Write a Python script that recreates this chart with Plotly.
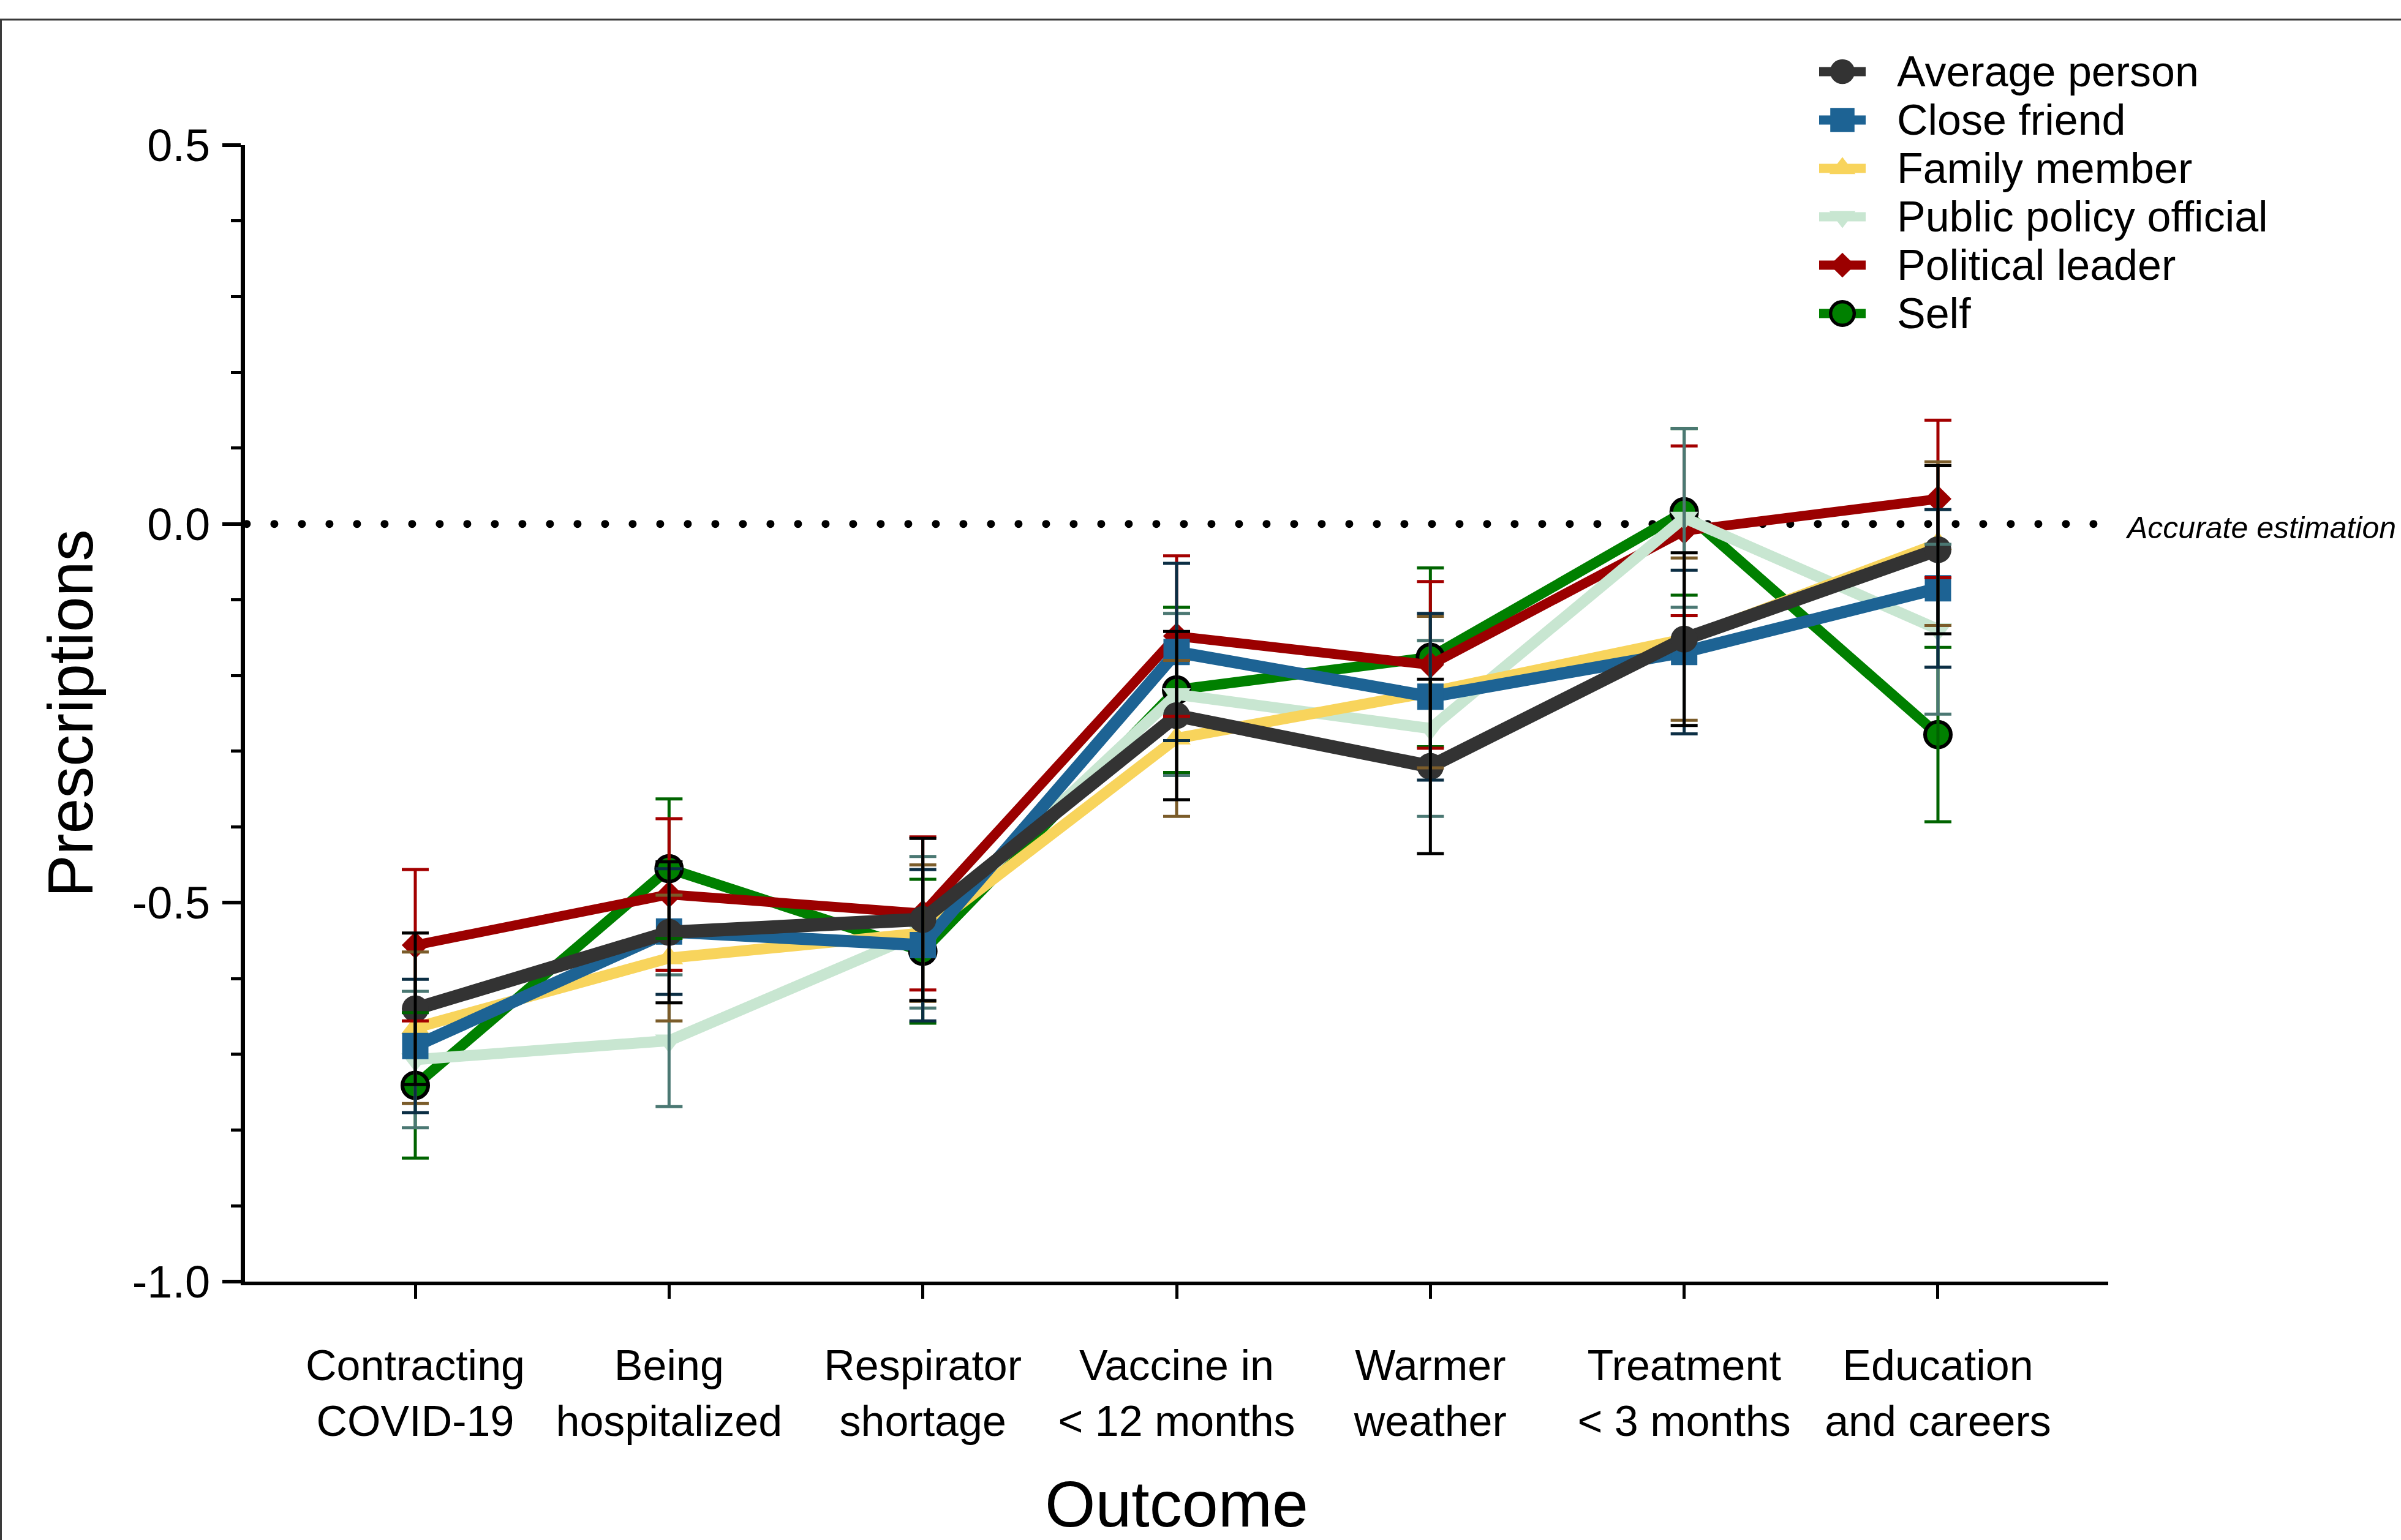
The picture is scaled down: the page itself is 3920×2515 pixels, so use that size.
import numpy as np
import plotly.graph_objects as go

# ---------------------------------------------------------------- data
outcomes = [
    "Contracting<br>COVID-19",
    "Being<br>hospitalized",
    "Respirator<br>shortage",
    "Vaccine in<br>&lt; 12 months",
    "Warmer<br>weather",
    "Treatment<br>&lt; 3 months",
    "Education<br>and careers",
]
y_tick_values = [-1.0, -0.5, 0.0, 0.5]
y_tick_labels = ["-1.0", "-0.5", "0.0", "0.5"]

series_names = [
    "Average person",
    "Close friend",
    "Family member",
    "Public policy official",
    "Political leader",
    "Self",
]

average_person = [-0.640, -0.539, -0.522, -0.253, -0.320, -0.152, -0.034]
average_person_err = [0.100, 0.093, 0.107, 0.111, 0.115, 0.114, 0.111]

close_friend = [-0.689, -0.538, -0.556, -0.169, -0.228, -0.169, -0.085]
close_friend_err = [0.088, 0.083, 0.100, 0.117, 0.110, 0.108, 0.104]

family_member = [-0.665, -0.573, -0.540, -0.283, -0.222, -0.152, -0.026]
family_member_err = [0.100, 0.083, 0.090, 0.103, 0.100, 0.107, 0.108]

public_policy_official = [-0.707, -0.682, -0.539, -0.225, -0.270, 0.008, -0.139]
public_policy_official_err = [0.090, 0.087, 0.100, 0.107, 0.116, 0.118, 0.112]

political_leader = [-0.556, -0.489, -0.514, -0.148, -0.186, -0.009, 0.033]
political_leader_err = [0.100, 0.100, 0.101, 0.106, 0.110, 0.112, 0.104]

self_ = [-0.741, -0.455, -0.564, -0.219, -0.176, 0.016, -0.278]
self_err = [0.096, 0.092, 0.095, 0.109, 0.118, 0.110, 0.115]

values = {
    "Average person": (average_person, average_person_err),
    "Close friend": (close_friend, close_friend_err),
    "Family member": (family_member, family_member_err),
    "Public policy official": (public_policy_official, public_policy_official_err),
    "Political leader": (political_leader, political_leader_err),
    "Self": (self_, self_err),
}

# ---------------------------------------------------------------- styles
styles = {
    "Average person": dict(line="#333333", width=22, symbol="circle", size=44,
                           edge=0, err="#000000"),
    "Close friend": dict(line="#1d6394", width=20, symbol="square", size=43,
                         edge=0, err="#0b2e44"),
    "Family member": dict(line="#f8d45c", width=18, symbol="triangle-up", size=40,
                          edge=0, err="#7b5c2a"),
    "Public policy official": dict(line="#c8e6d1", width=18, symbol="triangle-down",
                                   size=40, edge=0, err="#4b7873"),
    "Political leader": dict(line="#9b0000", width=16, symbol="diamond", size=34,
                             edge=0, err="#a30000"),
    "Self": dict(line="#008000", width=17, symbol="circle", size=42, edge=6,
                 err="#006400"),
}
# drawing order: Average person ends up on top
draw_order = ["Self", "Political leader", "Public policy official",
              "Family member", "Close friend", "Average person"]

FONT = "Liberation Sans, Arial, Helvetica, sans-serif"
W, H = 3920, 2515
PLOT_L, PLOT_R, PLOT_T, PLOT_B = 400, 3442, 237, 2093
X_RANGE = [-0.671, 6.671]

x = list(range(len(outcomes)))
fig = go.Figure()

# dotted "accurate estimation" reference line at y = 0
dot_step = 45.0 * (X_RANGE[1] - X_RANGE[0]) / (PLOT_R - PLOT_L)
dot_x = np.arange(X_RANGE[0] + 0.007, 6.63, dot_step)
fig.add_trace(go.Scatter(
    x=dot_x, y=np.zeros_like(dot_x), mode="markers",
    marker=dict(symbol="circle", size=13, color="black"),
    hoverinfo="skip", showlegend=False,
))

# series lines and markers
for name in draw_order:
    st = styles[name]
    vals, _ = values[name]
    fig.add_trace(go.Scatter(
        x=x, y=vals, mode="lines+markers", name=name,
        line=dict(color=st["line"], width=st["width"]),
        marker=dict(symbol=st["symbol"], size=st["size"], color=st["line"],
                    line=dict(width=st["edge"], color="black")),
        cliponaxis=False, showlegend=False,
    ))

# error bars drawn over all lines
for name in draw_order:
    st = styles[name]
    vals, errs = values[name]
    fig.add_trace(go.Scatter(
        x=x, y=vals, mode="markers",
        marker=dict(size=2, opacity=0),
        error_y=dict(type="data", array=errs, visible=True, color=st["err"],
                     thickness=5, width=22),
        hoverinfo="skip", showlegend=False, cliponaxis=False,
    ))

# ---------------------------------------------------------------- legend
LEG_X0, LEG_X1 = 2950, 3110
LEG_Y0, LEG_Y1 = 60, 570
LEG_TOP, LEG_GAP = 117, 79
SEG_L, SEG_C, SEG_R = 2970, 3008, 3046
for i, name in enumerate(series_names):
    st = styles[name]
    yy = LEG_TOP + i * LEG_GAP
    fig.add_trace(go.Scatter(
        x=[SEG_L, SEG_R], y=[yy, yy], mode="lines",
        line=dict(color=st["line"], width=15),
        xaxis="x2", yaxis="y2", hoverinfo="skip", showlegend=False,
    ))
    fig.add_trace(go.Scatter(
        x=[SEG_C], y=[yy], mode="markers",
        marker=dict(symbol=st["symbol"], size=st["size"] * 0.92, color=st["line"],
                    line=dict(width=st["edge"] * 0.9, color="black")),
        xaxis="x2", yaxis="y2", hoverinfo="skip", showlegend=False,
    ))
    fig.add_annotation(
        x=3095, y=yy, xref="x2", yref="y2", text=name, showarrow=False,
        xanchor="left", yanchor="middle",
        font=dict(family=FONT, size=70, color="black"),
    )

# label for the reference line (sits right of the plotting area)
fig.add_annotation(
    x=3468 / W, y=0, xref="paper", yref="y", text="<i>Accurate estimation</i>",
    showarrow=False, xanchor="left", yanchor="middle", yshift=-6,
    font=dict(family=FONT, size=50, color="black"),
)

# outer frame
fig.add_shape(
    type="rect", xref="paper", yref="paper",
    x0=1.5 / W, x1=1.02, y0=-0.02, y1=1 - 32 / H,
    line=dict(color="#3a3a3a", width=3), fillcolor="rgba(0,0,0,0)", layer="above",
)

fig.update_layout(
    width=W, height=H,
    margin=dict(l=0, r=0, t=0, b=0),
    paper_bgcolor="white", plot_bgcolor="rgba(0,0,0,0)",
    showlegend=False,
    font=dict(family=FONT, color="black"),
    xaxis=dict(
        domain=[PLOT_L / W, PLOT_R / W], range=X_RANGE,
        tickmode="array", tickvals=x, ticktext=outcomes,
        tickfont=dict(size=70, family=FONT, color="black"),
        showline=True, linecolor="black", linewidth=6,
        ticks="outside", ticklen=22, tickwidth=5, tickcolor="black",
        ticklabelstandoff=49,
        showgrid=False, zeroline=False, automargin=False,
        title=dict(text="Outcome", font=dict(size=106, family=FONT, color="black"),
                   standoff=87),
    ),
    yaxis=dict(
        domain=[1 - PLOT_B / H, 1 - PLOT_T / H], range=[-1.0, 0.5],
        tickmode="array", tickvals=y_tick_values, ticktext=y_tick_labels,
        tickfont=dict(size=74, family=FONT, color="black"),
        showline=True, linecolor="black", linewidth=7,
        ticks="outside", ticklen=30, tickwidth=6, tickcolor="black",
        ticklabelstandoff=5,
        minor=dict(dtick=0.1, tick0=0, ticks="outside", ticklen=16, tickwidth=5,
                   tickcolor="black", showgrid=False),
        showgrid=False, zeroline=False, automargin=False,
        title=dict(text="Prescriptions", font=dict(size=104, family=FONT, color="black"),
                   standoff=32),
    ),
    xaxis2=dict(domain=[LEG_X0 / W, LEG_X1 / W], range=[LEG_X0, LEG_X1],
                anchor="y2", visible=False, fixedrange=True),
    yaxis2=dict(domain=[1 - LEG_Y1 / H, 1 - LEG_Y0 / H], range=[LEG_Y1, LEG_Y0],
                anchor="x2", visible=False, fixedrange=True),
)

fig.write_html("out.html")
